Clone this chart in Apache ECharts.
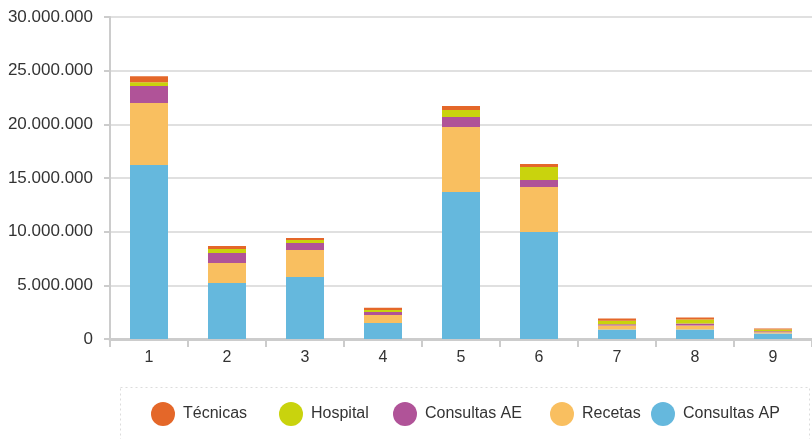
<!DOCTYPE html>
<html>
<head>
<meta charset="utf-8">
<script src="https://cdn.jsdelivr.net/npm/echarts@6/dist/echarts.min.js"></script>
<style>
html,body{margin:0;padding:0;background:#fff;}
#chart{width:812px;height:439px;}
</style>
</head>
<body>
<div id="chart"></div>
<script>
const categories = ['1','2','3','4','5','6','7','8','9'];
const consultasAP = [16200000, 5220000, 5780000, 1490000, 13700000, 9970000, 880000, 880000, 510000];
const recetas     = [5780000, 1860000, 2520000, 750000, 6050000, 4190000, 370000, 370000, 120000];
const consultasAE = [1580000, 930000, 650000, 280000, 930000, 650000, 120000, 190000, 90000];
const hospital    = [370000, 370000, 280000, 190000, 650000, 1210000, 340000, 370000, 160000];
const tecnicas    = [560000, 280000, 190000, 190000, 370000, 280000, 190000, 190000, 90000];
const yTicks = [0, 5000000, 10000000, 15000000, 20000000, 25000000, 30000000];

const colors = {
  'Técnicas': '#e46729',
  'Hospital': '#c9d30d',
  'Consultas AE': '#b05398',
  'Recetas': '#f9bf60',
  'Consultas AP': '#65b8dd'
};

function fmt(v){ return String(v).replace(/\B(?=(\d{3})+(?!\d))/g, '.'); }

const chart = echarts.init(document.getElementById('chart'), null, {renderer:'canvas'});
const font = 'Liberation Sans, Arial, sans-serif';

function mkSeries(name, data){
  return {
    name: name, type: 'bar', stack: 'total', data: data, barWidth: 38,
    itemStyle: {color: colors[name]},
    emphasis: {disabled: true}
  };
}

const legendPos = [
  ['Técnicas', 146],
  ['Hospital', 274],
  ['Consultas AE', 388],
  ['Recetas', 545],
  ['Consultas AP', 646]
];

chart.setOption({
  animation: false,
  backgroundColor: '#fff',
  grid: {left: 110, right: 0, top: 17, bottom: 100, containLabel: false},
  graphic: [{
    type: 'rect', silent: true, z: -1,
    shape: {x: 120.5, y: 387.5, width: 689, height: 80},
    style: {fill: null, stroke: '#dcdcdc', lineWidth: 1, lineDash: [2, 3]}
  }],
  legend: legendPos.map(function(p){
    return {
      data: [p[0]], left: p[1], top: 397, icon: 'circle',
      itemWidth: 24, itemHeight: 24, itemGap: 0,
      selectedMode: false,
      textStyle: {fontFamily: font, fontSize: 16, color: '#333', padding: [0,0,0,3]}
    };
  }),
  xAxis: {
    type: 'category', data: categories,
    axisLine: {show: true, lineStyle: {color: '#cccccc', width: 3}},
    axisTick: {show: true, length: 8, lineStyle: {color: '#cccccc', width: 2}},
    axisLabel: {fontFamily: font, fontSize: 16, color: '#333', margin: 11},
    splitLine: {show: false}
  },
  yAxis: {
    type: 'value', min: 0, max: 30000000, interval: 5000000,
    axisLine: {show: true, lineStyle: {color: '#cccccc', width: 2}},
    axisTick: {show: true, length: 6, lineStyle: {color: '#cccccc', width: 2}},
    axisLabel: {fontFamily: font, fontSize: 17, color: '#333', margin: 17,
      formatter: function(v){ return fmt(v); }},
    splitLine: {show: true, lineStyle: {color: '#d6d6d6', width: 1.5}}
  },
  series: [
    mkSeries('Consultas AP', consultasAP),
    mkSeries('Recetas', recetas),
    mkSeries('Consultas AE', consultasAE),
    mkSeries('Hospital', hospital),
    mkSeries('Técnicas', tecnicas)
  ]
});
</script>
</body>
</html>
